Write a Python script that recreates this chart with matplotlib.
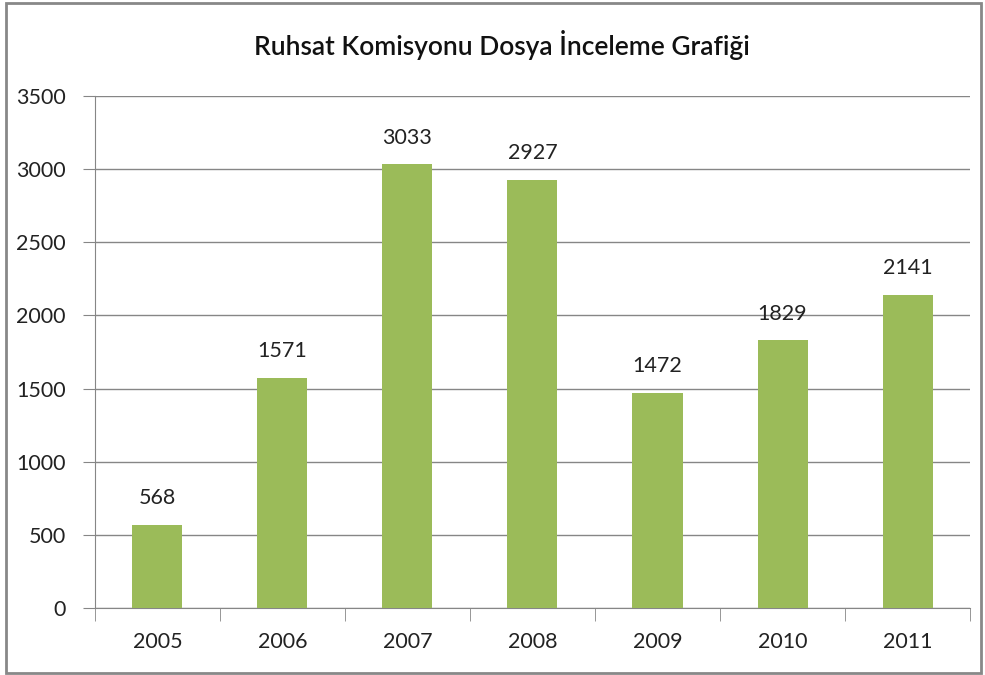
import matplotlib.pyplot as plt
from matplotlib.patches import Rectangle

years = ['2005', '2006', '2007', '2008', '2009', '2010', '2011']
counts = [568, 1571, 3033, 2927, 1472, 1829, 2141]
yticks = [0, 500, 1000, 1500, 2000, 2500, 3000, 3500]

plt.rcParams['font.family'] = ['Lato', 'DejaVu Sans']

fig = plt.figure(figsize=(9.85, 6.75), dpi=100)
ax = fig.add_axes([0.0964, 0.0993, 0.8884, 0.7585])

x = list(range(len(years)))
ax.bar(x, counts, width=0.4, color='#9BBB59', zorder=3)
for xi, v in zip(x, counts):
    ax.annotate(str(v), (xi, v), xytext=(0, 12), textcoords='offset points',
                ha='center', va='bottom', fontsize=15.5, color='#222222')

ax.set_xlim(-0.5, len(years) - 0.5)
ax.set_ylim(0, 3500)
ax.set_yticks(yticks)
ax.set_yticklabels([str(t) for t in yticks], fontsize=15.5, color='#222222')
ax.set_xticks(x)
ax.set_xticklabels(years, fontsize=15.5, color='#222222')
ax.set_xticks([i - 0.5 for i in range(len(years) + 1)], minor=True)
ax.tick_params(axis='x', which='major', length=0, pad=17)
ax.tick_params(axis='x', which='minor', length=9, color='#868686')
ax.tick_params(axis='y', length=9, color='#868686', pad=12)
ax.yaxis.grid(True, color='#868686', linewidth=1, zorder=0)

for s in ['top', 'right']:
    ax.spines[s].set_visible(False)
for s in ['left', 'bottom']:
    ax.spines[s].set_color('#868686')

fig.text(0.51, 0.933, 'Ruhsat Komisyonu Dosya İnceleme Grafiği', ha='center', va='center',
         fontsize=19, fontweight='semibold', color='#111111')

fig.patches.append(Rectangle((0.006, 0.003), 0.99, 0.993, transform=fig.transFigure,
                             fill=False, edgecolor='#888888', linewidth=2))

fig.savefig('out.png', dpi=100)
